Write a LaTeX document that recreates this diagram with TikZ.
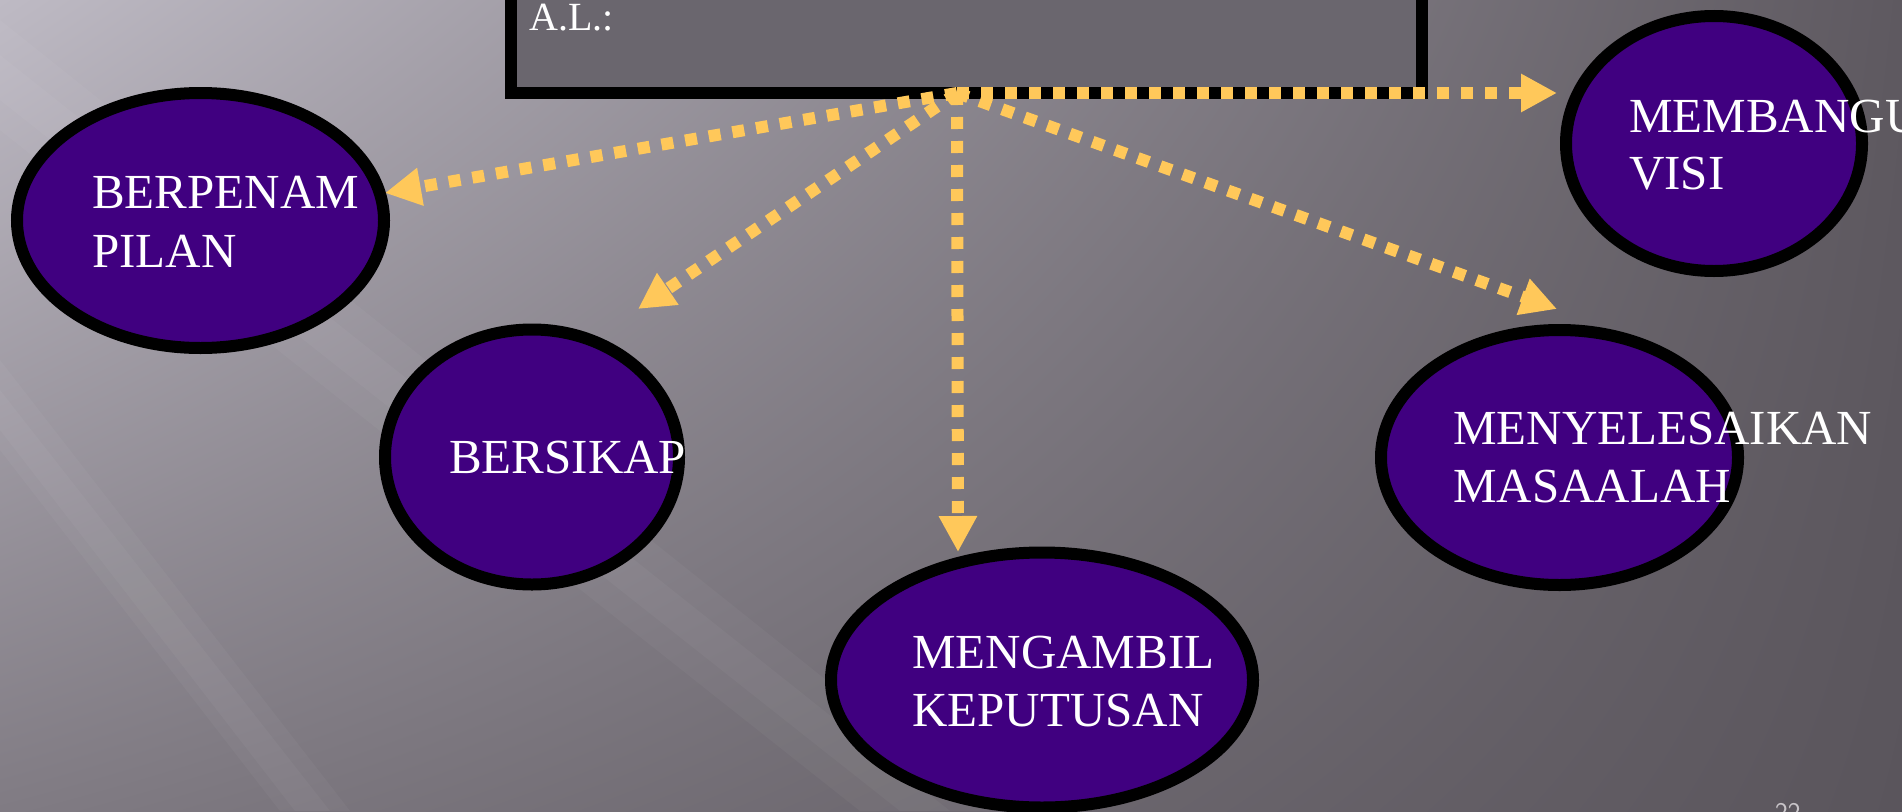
\documentclass[tikz,border=0pt]{standalone}
\usepackage{fontspec}
\setmainfont{Liberation Serif}
\usetikzlibrary{arrows.meta,shapes.geometric,shadings}
\definecolor{bgul}{RGB}{190,186,196}
\definecolor{bgll}{RGB}{128,123,131}
\definecolor{bgur}{RGB}{94,89,96}
\definecolor{bglr}{RGB}{90,85,92}
\definecolor{boxgray}{RGB}{106,102,110}
\definecolor{ovalfill}{RGB}{64,0,128}
\definecolor{arrowyellow}{RGB}{255,200,90}
\definecolor{pagenum}{RGB}{200,196,200}
\tikzset{
  oval/.style={ellipse, draw=black, line width=12pt, fill=ovalfill, inner sep=0pt, minimum height=255pt},
  lbl/.style={anchor=base west, inner sep=0pt, text=white, font=\fontsize{49}{58}\selectfont},
  conn/.style={draw=arrowyellow, line width=12pt, dash pattern=on 12pt off 12pt, -{Triangle[length=36pt,width=36pt]}},
  streak/.style={fill=white, opacity=0.035},
}
\begin{document}
\begin{tikzpicture}[x=1pt,y=-1pt]
\useasboundingbox (0,0) rectangle (1902,811);
\clip (0,0) rectangle (1902,811);
% background
\shade[upper left=bgul, upper right=bgur, lower left=bgll, lower right=bglr] (0,0) rectangle (1902,811);
% soft diagonal light streaks
\fill[streak] (0,360) -- (0,450) -- (280,811) -- (350,811) -- cycle;
\fill[streak] (0,390) -- (0,430) -- (295,811) -- (330,811) -- cycle;
\fill[streak] (0,20) -- (0,130) -- (860,811) -- (990,811) -- cycle;
\fill[streak] (0,55) -- (0,100) -- (900,811) -- (950,811) -- cycle;
% top box
\node[draw=black, line width=12pt, fill=boxgray, inner sep=0pt, minimum width=911pt, minimum height=133pt] (box) at (966.5,26.5) {};
\node[anchor=base west, inner sep=0pt, text=white, font=\fontsize{40}{48}\selectfont] (al) at (529,30) {A.L.:};
% ovals
\node[oval, minimum width=367pt] (e1) at (200.5,220.5) {};
\node[oval, minimum width=296pt] (e2) at (1714,143.5) {};
\node[oval, minimum width=294pt] (e3) at (532,457) {};
\node[oval, minimum width=422pt] (e4) at (1042,680) {};
\node[oval, minimum width=357pt] (e5) at (1559.5,457.5) {};
% labels
\node[lbl] (t1a) at (92,208) {BERPENAM};
\node[lbl] (t1b) at (92,267) {PILAN};
\node[lbl] (t2a) at (1629,132) {MEMBANGUN};
\node[lbl] (t2b) at (1629,189) {VISI};
\node[lbl] (t3) at (449,473) {BERSIKAP};
\node[lbl] (t4a) at (912,668) {MENGAMBIL};
\node[lbl] (t4b) at (912,726) {KEPUTUSAN};
\node[lbl] (t5a) at (1453,444) {MENYELESAIKAN};
\node[lbl] (t5b) at (1453,502) {MASAALAH};
% connectors
\coordinate (O) at (957,93);
\coordinate (pA) at (385,193);
\coordinate (pB) at (638,309);
\coordinate (pC) at (958,552);
\coordinate (pD) at (1557,309);
\coordinate (pE) at (1557,93);
\draw[conn] (O) -- (pE);
\draw[conn] (O) -- (pA);
\draw[conn] (O) -- (pB);
\draw[conn] (O) -- (pC);
\draw[conn] (O) -- (pD);
% page number
\node[anchor=base west, inner sep=0pt, text=pagenum, font=\sffamily\fontsize{27}{30}\selectfont] (pg) at (1775,821) {22};
\end{tikzpicture}
\end{document}
